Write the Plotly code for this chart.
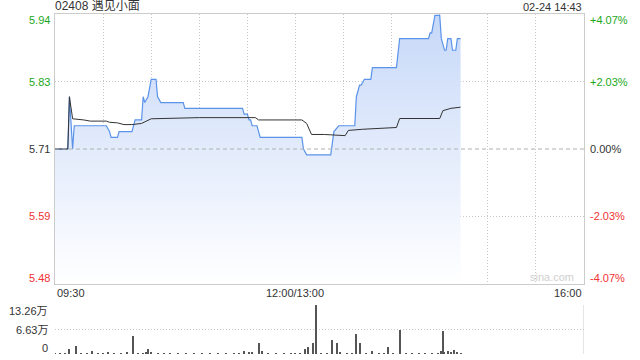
import plotly.graph_objects as go

# ---------------- data ----------------
prev_close = 5.71
price_times = ["09:30","09:38","09:39","09:41","09:42","10:02","10:04","10:05","10:09","10:10",
               "10:18","10:20","10:24","10:25","10:26","10:28","10:30","10:33","10:34","10:36",
               "10:50","10:51","11:27","11:28","11:30","11:31","11:32","11:33","11:36","11:37",
               "11:38","13:04","13:05","13:07","13:22","13:24","13:27","13:37","13:38","13:40",
               "13:41","13:43","13:47","13:48","14:03","14:05","14:23","14:24","14:25","14:27",
               "14:30","14:31","14:33","14:34","14:35","14:37","14:38","14:40","14:41","14:43"]
price_vals = [5.71,5.71,5.80,5.71,5.75,5.75,5.74,5.73,5.73,5.74,
              5.74,5.76,5.76,5.80,5.79,5.80,5.83,5.83,5.80,5.79,
              5.79,5.78,5.78,5.77,5.77,5.76,5.76,5.75,5.75,5.74,
              5.73,5.73,5.71,5.70,5.70,5.74,5.75,5.75,5.80,5.82,
              5.82,5.83,5.83,5.85,5.85,5.90,5.90,5.91,5.91,5.94,
              5.94,5.90,5.88,5.88,5.90,5.90,5.88,5.88,5.90,5.90]

avg_times = ["09:30","09:38","09:39","09:41","09:48","09:52","10:02","10:04","10:09","10:13",
             "10:18","10:24","10:30","11:00","11:35","11:37","13:04","13:07","13:10","13:18",
             "13:31","13:33","13:42","13:52","14:03","14:05","14:30","14:32","14:37","14:43"]
avg_vals = [5.710,5.710,5.800,5.762,5.760,5.758,5.758,5.756,5.755,5.752,
            5.752,5.754,5.762,5.764,5.764,5.760,5.760,5.754,5.735,5.735,
            5.733,5.742,5.744,5.745,5.747,5.7625,5.7625,5.776,5.780,5.782]

vol_times = ["09:30","09:33","09:36","09:39","09:43","09:46","09:50","09:53","09:57","10:00",
             "10:03","10:07","10:11","10:15","10:19","10:22","10:25","10:27","10:28","10:30",
             "10:34","10:38","10:42","10:47","10:52","10:57","11:02","11:07","11:12","11:17",
             "11:22","11:25","11:28","11:31","11:33","11:37","11:39","11:43","11:48","11:53",
             "11:57","13:00","13:03","13:06","13:08","13:11","13:13","13:16","13:20","13:23",
             "13:26","13:28","13:32","13:35","13:38","13:40","13:44","13:48","13:52","13:55",
             "13:58","14:01","14:05","14:09","14:13","14:17","14:21","14:25","14:29","14:31",
             "14:32","14:33","14:35","14:37","14:39","14:41","14:43"]
vol_vals = [2000,1500,1800,14300,23000,1500,1800,9000,1500,1600,
            5000,1500,1800,5000,47600,1800,2000,4000,14000,6000,
            1500,1800,1500,1600,1500,1800,1500,1600,1500,1800,
            1500,2500,9000,5000,5000,31000,9000,1500,1600,1500,
            1800,1500,2000,14000,18000,31000,132600,1800,1500,38700,
            31000,4000,1600,1800,55000,31000,1500,7000,1600,1800,
            20000,1500,66000,1600,1800,1500,1600,1800,1500,9000,
            61000,6000,9000,3000,12000,6000,2000]

title_text = "02408 遇见小面"
stamp_text = "02-24 14:43"
pct_ticks = [0.0407, 0.0203, 0.0, -0.0203, -0.0407]
price_tick_labels = ["5.94", "5.83", "5.71", "5.59", "5.48"]
pct_tick_labels = ["+4.07%", "+2.03%", "0.00%", "-2.03%", "-4.07%"]
vol_max = 132600
vol_tick_vals = [132600, 66300, 0]
vol_tick_labels = ["13.26万", "6.63万", "0"]


def tmin(s):
    h, m = map(int, s.split(":"))
    if h < 13:
        return (h - 9) * 60 + m - 30
    return 150 + (h - 13) * 60 + m


px = [tmin(t) for t in price_times]
ax = [tmin(t) for t in avg_times]
vx = [tmin(t) for t in vol_times]

ylo = prev_close * (1 - 0.0407)
yhi = prev_close * (1 + 0.0407)

FONT = "Arial, 'Liberation Sans', 'Noto Sans CJK SC', sans-serif"
GREEN = "#1aa81a"
RED = "#f03232"
DARK = "#333333"
GRID = "#c8c8c8"

W, H = 640, 360
xl, xr = 55 / W, 584 / W
main_dom = [1 - 284 / H, 1 - 14 / H]
vol_dom = [1 - 354 / H, 1 - 305 / H]

fig = go.Figure()

fig.add_trace(go.Scatter(
    x=px, y=price_vals, mode="lines",
    line=dict(color="#5b93ea", width=1.2),
    fill="tozeroy",
    fillgradient=dict(type="vertical", start=ylo, stop=yhi,
                      colorscale=[[0, "rgba(255,255,255,1)"], [1, "rgba(198,216,248,1)"]]),
    hoverinfo="skip", xaxis="x", yaxis="y"))

fig.add_trace(go.Scatter(
    x=ax, y=avg_vals, mode="lines",
    line=dict(color="#333333", width=1),
    hoverinfo="skip", xaxis="x", yaxis="y"))

fig.add_trace(go.Bar(
    x=vx, y=vol_vals, width=0.7, marker=dict(color="#555555", line=dict(width=0)),
    hoverinfo="skip", xaxis="x2", yaxis="y2"))

grid_prices = [prev_close * (1 + p) for p in pct_ticks]

fig.update_layout(
    width=W, height=H,
    margin=dict(l=0, r=0, t=0, b=0),
    paper_bgcolor="white", plot_bgcolor="rgba(0,0,0,0)",
    showlegend=False,
    bargap=0,
    xaxis=dict(domain=[xl, xr], range=[0, 330], tick0=0, dtick=30,
               showgrid=True, gridcolor=GRID, griddash="1px,2px", gridwidth=1,
               showticklabels=False, zeroline=False, ticks="",
               showline=True, mirror=True, linecolor="#cccccc", linewidth=1),
    yaxis=dict(domain=main_dom, range=[ylo, yhi],
               tickvals=[grid_prices[1], grid_prices[3]],
               showgrid=True, gridcolor=GRID, griddash="1px,2px", gridwidth=1,
               showticklabels=False, zeroline=False, ticks="",
               showline=True, mirror=True, linecolor="#cccccc", linewidth=1),
    xaxis2=dict(domain=[xl, xr], range=[0, 330], anchor="y2", matches=None,
                showgrid=False, showticklabels=False, zeroline=False, ticks="",
                showline=False),
    yaxis2=dict(domain=vol_dom, range=[0, vol_max], anchor="x2",
                tickvals=vol_tick_vals,
                showgrid=True, gridcolor=GRID, griddash="1px,2px", gridwidth=1,
                showticklabels=False, zeroline=False, ticks="", showline=False),
)

# dashed previous close line
fig.add_shape(type="line", xref="x", yref="y", x0=0, x1=330, y0=prev_close, y1=prev_close,
              line=dict(color="#b0b0b0", width=1, dash="4px,3px"), layer="above")
# right border of volume panel
fig.add_shape(type="line", xref="x2", yref="y2", x0=330, x1=330, y0=0, y1=vol_max,
              line=dict(color="#cccccc", width=1))

ann = []
colors = [GREEN, GREEN, DARK, RED, RED]
shifts = [-6, 0, 0, 0, 6]
for v, lab, pl, c, s in zip(grid_prices, price_tick_labels, pct_tick_labels, colors, shifts):
    ann.append(dict(xref="paper", yref="y", x=xl, y=v, text=lab, showarrow=False,
                    xanchor="right", yanchor="middle", xshift=-3, yshift=s,
                    font=dict(family=FONT, size=11, color=c)))
    ann.append(dict(xref="paper", yref="y", x=xr, y=v, text=pl, showarrow=False,
                    xanchor="left", yanchor="middle", xshift=4, yshift=s,
                    font=dict(family=FONT, size=11, color=c)))

vshifts = [-6, 0, 6]
for v, lab, s in zip(vol_tick_vals, vol_tick_labels, vshifts):
    ann.append(dict(xref="paper", yref="y2", x=xl, y=v, text=lab, showarrow=False,
                    xanchor="right", yanchor="middle", xshift=-5, yshift=s,
                    font=dict(family=FONT, size=11, color=DARK)))

# time labels
ann.append(dict(xref="x", yref="paper", x=0, y=main_dom[0], text="09:30", showarrow=False,
                xanchor="left", yanchor="top", yshift=-1, font=dict(family=FONT, size=11, color=DARK)))
ann.append(dict(xref="x", yref="paper", x=150, y=main_dom[0], text="12:00/13:00", showarrow=False,
                xanchor="center", yanchor="top", yshift=-1, font=dict(family=FONT, size=11, color=DARK)))
ann.append(dict(xref="x", yref="paper", x=330, y=main_dom[0], text="16:00", showarrow=False,
                xanchor="right", yanchor="top", yshift=-1, font=dict(family=FONT, size=11, color=DARK)))

# header
ann.append(dict(xref="paper", yref="paper", x=xl, y=main_dom[1], text=title_text, showarrow=False,
                xanchor="left", yanchor="bottom", yshift=-1, xshift=-2,
                font=dict(family=FONT, size=12, color=DARK)))
ann.append(dict(xref="paper", yref="paper", x=xr, y=main_dom[1], text=stamp_text, showarrow=False,
                xanchor="right", yanchor="bottom", yshift=-1,
                font=dict(family=FONT, size=11, color=DARK)))
# watermark
ann.append(dict(xref="x", yref="y", x=310, y=ylo, text="sina.com", showarrow=False,
                xanchor="center", yanchor="bottom", yshift=-1,
                font=dict(family=FONT, size=11, color="#cfcfcf")))

fig.update_layout(annotations=ann)
fig.write_html("out.html")
